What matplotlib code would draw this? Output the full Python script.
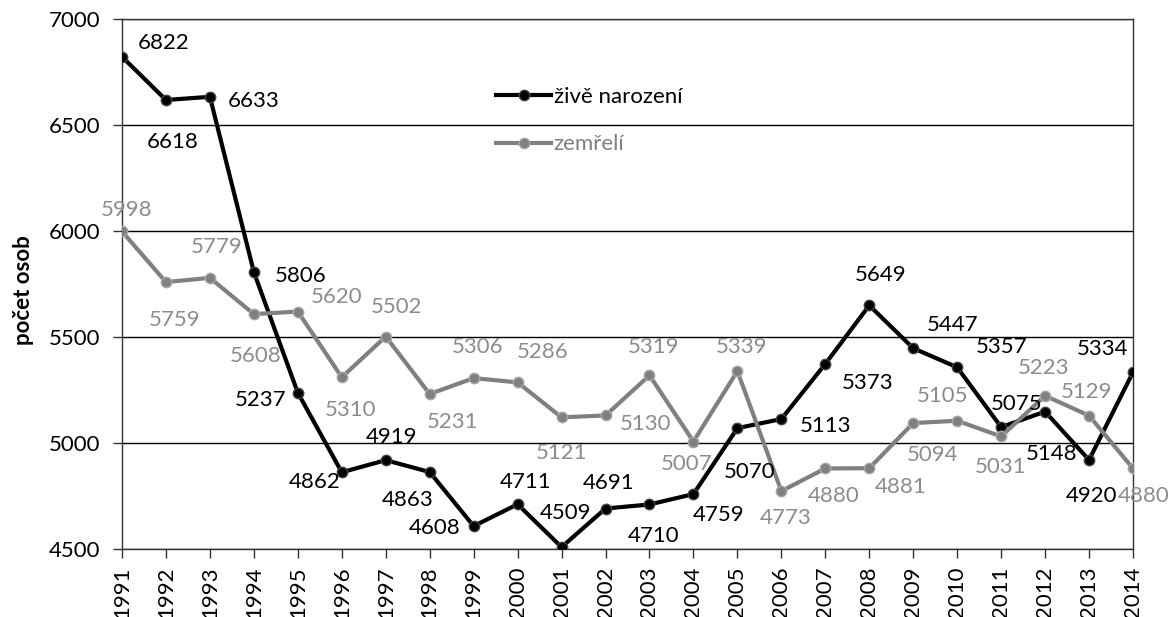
import matplotlib.pyplot as plt
import numpy as np

plt.rcParams['font.family'] = ['Lato', 'DejaVu Sans']

# %%
years = list(range(1991, 2015))
narozeni = [6822, 6618, 6633, 5806, 5237, 4862, 4919, 4863, 4608, 4711, 4509, 4691,
            4710, 4759, 5070, 5113, 5373, 5649, 5447, 5357, 5075, 5148, 4920, 5334]
zemreli = [5998, 5759, 5779, 5608, 5620, 5310, 5502, 5231, 5306, 5286, 5121, 5130,
           5319, 5007, 5339, 4773, 4880, 4881, 5094, 5105, 5031, 5223, 5129, 4880]

# label offsets in pixels (dx right, dy down)
off_nar = [(42, -14), (7, 42), (44, 4), (47, 4), (-37, 7), (-27, 10), (6, -23), (-22, 28),
           (-39, 2), (8, -22), (4, -34), (3, -26), (4, 32), (25, 21), (12, 44), (44, 7),
           (42, 19), (11, -30), (39, -23), (44, -20), (15, -23), (7, 42), (2, 36), (-30, -23)]
off_zem = [(5, -21), (9, 38), (7, -31), (2, 42), (39, -15), (9, 33), (11, -30), (23, 28),
           (4, -31), (25, -30), (0, 36), (40, 9), (4, -28), (-7, 22), (4, -24), (4, 27),
           (8, 28), (31, 19), (19, 32), (-15, -25), (-1, 31), (-2, -28), (-2, -24), (11, 28)]

# %%
fig = plt.figure(figsize=(11.72, 6.17), dpi=100)
ax = fig.add_axes([122/1172, 68/617, 1011/1172, 530/617])

ax.plot(years, narozeni, color='black', lw=3, marker='o', ms=7.5,
        mfc='black', mec='#444444', mew=1, label='živě narození', zorder=3)
ax.plot(years, zemreli, color='#808080', lw=3, marker='o', ms=7.5,
        mfc='#808080', mec='#a8a8a8', mew=1, label='zemřelí', zorder=4)

for x, v, (dx, dy) in zip(years, narozeni, off_nar):
    ax.annotate(str(v), (x, v), xytext=(dx, -dy), textcoords='offset pixels',
                ha='center', va='center', fontsize=16, color='black', zorder=6)
for x, v, (dx, dy) in zip(years, zemreli, off_zem):
    ax.annotate(str(v), (x, v), xytext=(dx, -dy), textcoords='offset pixels',
                ha='center', va='center', fontsize=16, color='#8c8c8c', zorder=6)

ax.set_xlim(1991, 2014)
ax.set_ylim(4500, 7000)
ax.set_yticks(np.arange(4500, 7001, 500))
ax.set_xticks(years)
ax.set_xticklabels([str(y) for y in years], rotation=90)
ax.tick_params(axis='both', labelsize=16, length=6.5, width=1, color='#333333')
ax.tick_params(axis='y', pad=9)
ax.tick_params(axis='x', pad=6)
ax.yaxis.grid(True, color='black', lw=1)
ax.set_axisbelow(True)
for s in ax.spines.values():
    s.set_color('#333333')
    s.set_linewidth(1)

fig.text(23/1172, 1 - 290/617, 'počet osob', rotation=90, ha='center', va='center',
         fontsize=16, fontweight='bold')

ax.legend(loc='upper left', bbox_to_anchor=(0.35, 0.91), frameon=False,
          fontsize=16, handlelength=2.5, handletextpad=0.1, labelspacing=1.25,
          labelcolor='linecolor')

plt.savefig('out.png', dpi=100)
